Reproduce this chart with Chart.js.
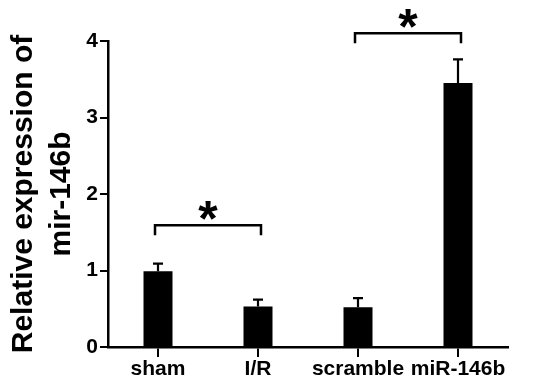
<!DOCTYPE html>
<html>
<head>
<meta charset="utf-8">
<script src="https://cdn.jsdelivr.net/npm/chart.js@4/dist/chart.umd.min.js"></script>
<style>
  html, body { margin: 0; padding: 0; background: #fff; }
  #wrap { width: 533px; height: 385px; }
</style>
</head>
<body>
<div id="wrap"><canvas id="mir-chart"></canvas></div>
<script>
const groups = ['sham', 'I/R', 'scramble', 'miR-146b'];
const expression = [0.99, 0.53, 0.52, 3.45];
const sem = [0.10, 0.09, 0.12, 0.31];
const yTicks = [0, 1, 2, 3, 4];
// significance pairs (group indices) and the value level of each bracket
const sigPairs = [[0, 1], [2, 3]];
const sigLevels = [1.59, 4.1];

const fontFamily = 'Arial, "Liberation Sans", sans-serif';

const extras = {
    id: 'extras',
    afterDatasetsDraw(chart) {
        const ctx = chart.ctx;
        const meta = chart.getDatasetMeta(0);
        const y = chart.scales.y;
        ctx.save();
        ctx.strokeStyle = '#000';
        ctx.fillStyle = '#000';
        ctx.lineWidth = 2.2;
        // error bars, upward only
        meta.data.forEach(function (bar, i) {
            const top = y.getPixelForValue(expression[i] + sem[i]);
            ctx.beginPath();
            ctx.moveTo(bar.x, bar.y);
            ctx.lineTo(bar.x, top);
            ctx.moveTo(bar.x - 5, top);
            ctx.lineTo(bar.x + 5, top);
            ctx.stroke();
        });
        // brackets with asterisks
        ctx.lineWidth = 2.5;
        sigPairs.forEach(function (pair, k) {
            const x1 = meta.data[pair[0]].x - 3;
            const x2 = meta.data[pair[1]].x + 3;
            const yy = y.getPixelForValue(sigLevels[k]);
            ctx.beginPath();
            ctx.moveTo(x1, yy + 10);
            ctx.lineTo(x1, yy);
            ctx.lineTo(x2, yy);
            ctx.lineTo(x2, yy + 10);
            ctx.stroke();
            ctx.font = 'bold 50px ' + fontFamily;
            ctx.textAlign = 'center';
            ctx.textBaseline = 'alphabetic';
            ctx.fillText('*', (x1 + x2) / 2, yy + 11);
        });
        ctx.restore();
    }
};

const ctx = document.getElementById('mir-chart').getContext('2d');
new Chart(ctx, {
    type: 'bar',
    data: {
        labels: groups,
        datasets: [{
            data: expression,
            backgroundColor: '#000',
            borderWidth: 0,
            barPercentage: 0.29,
            categoryPercentage: 1
        }]
    },
    options: {
        responsive: true,
        maintainAspectRatio: false,
        animation: false,
        layout: { padding: { top: 41, right: 25, left: 0, bottom: 0 } },
        plugins: {
            legend: { display: false },
            tooltip: { enabled: false }
        },
        scales: {
            x: {
                afterFit(s) { s.height = 38; },
                border: { color: '#000', width: 2.5 },
                grid: { offset: false, drawOnChartArea: false, drawTicks: true, tickLength: 10, color: '#000', lineWidth: 2 },
                ticks: { color: '#000', padding: 0, font: { family: fontFamily, size: 21, weight: 'bold' }, maxRotation: 0, autoSkip: false }
            },
            y: {
                min: 0,
                max: 4,
                afterFit(s) { s.width = 108; },
                afterBuildTicks(s) { s.ticks = yTicks.map(v => ({ value: v })); },
                border: { color: '#000', width: 2.5 },
                grid: { drawOnChartArea: false, drawTicks: true, tickLength: 8, color: '#000', lineWidth: 2 },
                ticks: { color: '#000', padding: 2, font: { family: fontFamily, size: 21, weight: 'bold' } },
                title: {
                    display: true,
                    text: ['Relative expression of', 'mir-146b'],
                    color: '#000',
                    padding: { top: 5, bottom: 0 },
                    font: { family: fontFamily, size: 30, weight: 'bold', lineHeight: 1.25 }
                }
            }
        }
    },
    plugins: [extras]
});
</script>
</body>
</html>
